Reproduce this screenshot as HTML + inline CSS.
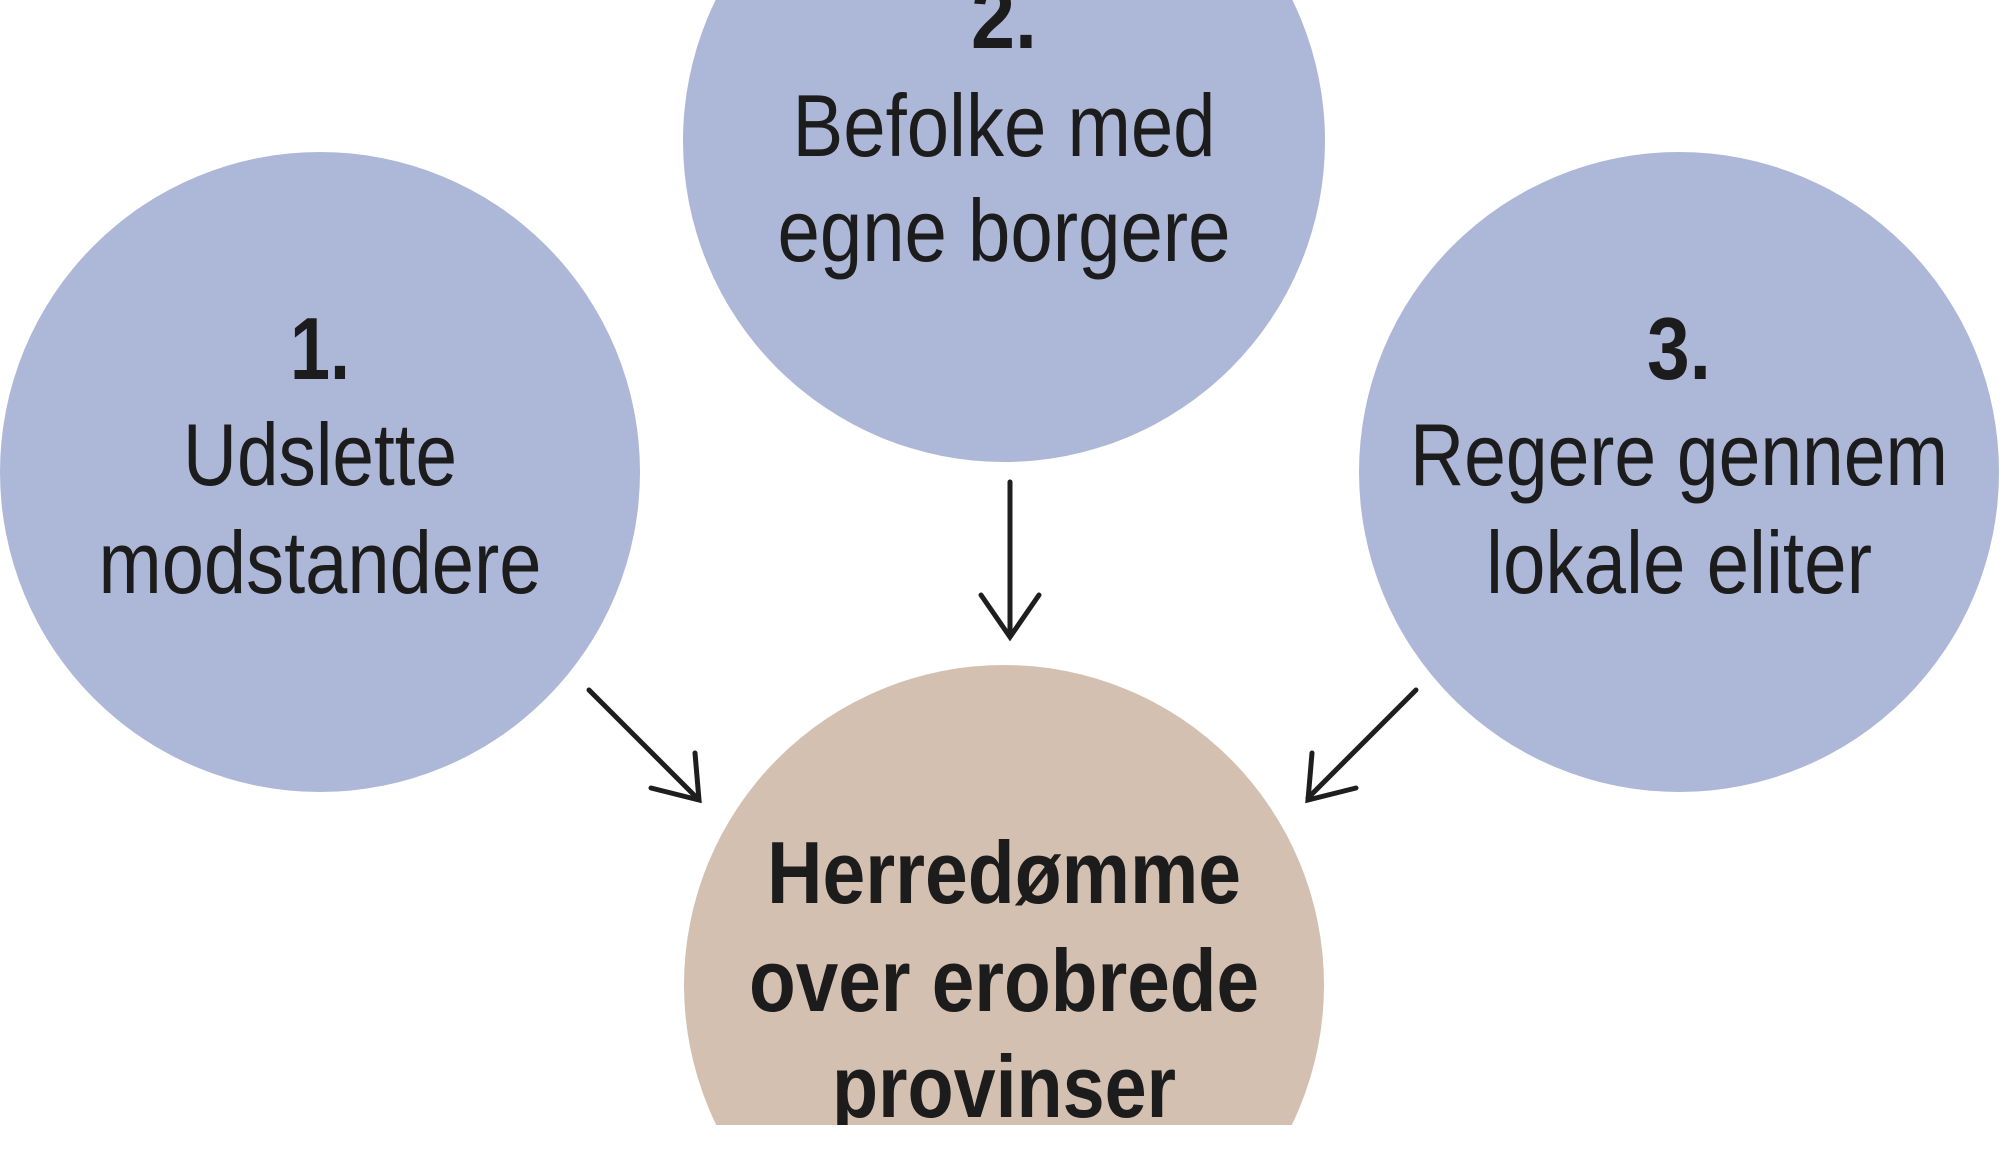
<!DOCTYPE html>
<html><head><meta charset="utf-8"><style>
html,body{margin:0;padding:0;background:#fff;width:2000px;height:1165px;overflow:hidden;}
svg{display:block;}
text{font-family:"Liberation Sans Narrow","Liberation Sans",sans-serif;fill:#1c1c1c;text-anchor:middle;}
</style></head><body>
<svg width="2000" height="1165" viewBox="0 0 2000 1165">
<defs><clipPath id="c"><rect x="0" y="0" width="2000" height="1125"/></clipPath></defs>
<circle cx="320" cy="472" r="320" fill="#adb8d8"/>
<circle cx="1004" cy="141" r="321" fill="#adb8d8"/>
<circle cx="1679" cy="472" r="320" fill="#adb8d8"/>
<circle cx="1004" cy="985" r="320" fill="#d4c0b1" clip-path="url(#c)"/>
<g stroke="#1e1e1e" stroke-width="5" fill="none" stroke-linecap="round" stroke-linejoin="miter">
<line x1="1010" y1="482" x2="1010" y2="636"/>
<polyline points="981,595 1010,637 1039,595"/>
<line x1="589" y1="690" x2="697" y2="798"/>
<polyline points="651,788 699,800 695,753"/>
<line x1="1416" y1="690" x2="1308" y2="798"/>
<polyline points="1356,788 1308,800 1312,753"/>
</g>
<g font-size="88">
<text x="320" y="379" font-weight="bold" textLength="60" lengthAdjust="spacingAndGlyphs">1.</text>
<text x="320" y="485" textLength="274" lengthAdjust="spacingAndGlyphs">Udslette</text>
<text x="320" y="593" textLength="443" lengthAdjust="spacingAndGlyphs">modstandere</text>
<text x="1004" y="48" font-weight="bold" textLength="66" lengthAdjust="spacingAndGlyphs">2.</text>
<text x="1004" y="156" textLength="423" lengthAdjust="spacingAndGlyphs">Befolke med</text>
<text x="1004" y="261" textLength="453" lengthAdjust="spacingAndGlyphs">egne borgere</text>
<text x="1679" y="379" font-weight="bold" textLength="64" lengthAdjust="spacingAndGlyphs">3.</text>
<text x="1679" y="485" textLength="538" lengthAdjust="spacingAndGlyphs">Regere gennem</text>
<text x="1679" y="593" textLength="386" lengthAdjust="spacingAndGlyphs">lokale eliter</text>
<g clip-path="url(#c)" font-weight="bold">
<text x="1004" y="903" textLength="474" lengthAdjust="spacingAndGlyphs">Herredømme</text>
<text x="1004" y="1011" textLength="510" lengthAdjust="spacingAndGlyphs">over erobrede</text>
<text x="1004" y="1117" textLength="344" lengthAdjust="spacingAndGlyphs">provinser</text>
</g>
</g>
</svg>
</body></html>
